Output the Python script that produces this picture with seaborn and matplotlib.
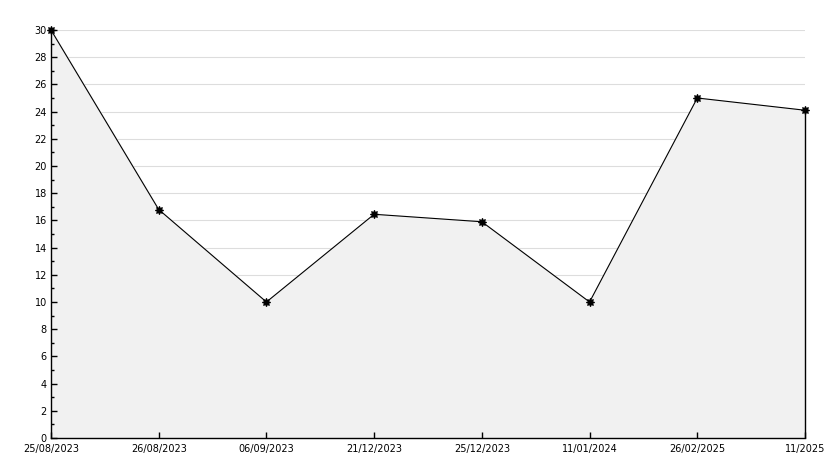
import matplotlib
matplotlib.use("Agg")
import matplotlib.pyplot as plt
import seaborn as sns
import pandas as pd
from matplotlib.ticker import MultipleLocator

# data
dates = ["25/08/2023", "26/08/2023", "06/09/2023", "21/12/2023",
         "25/12/2023", "11/01/2024", "26/02/2025", "11/2025"]
values = [30, 16.8, 10, 16.45, 15.9, 10, 25, 24.1]
y_grid = list(range(2, 31, 2))

df = pd.DataFrame({"pos": range(len(dates)), "value": values})

sns.set_style("white")
plt.rcParams["font.family"] = ["DejaVu Sans"]

fig = plt.figure(figsize=(8.34, 4.68), dpi=100)
ax = fig.add_axes([51 / 834, 30 / 468, 754 / 834, 408 / 468])

# gridlines sit behind the filled area, ticks stay on top
for g in y_grid:
    ax.axhline(g, color="#dddddd", linewidth=0.8, zorder=0)

ax.fill_between(df["pos"], df["value"], 0, color="#f1f1f1", zorder=1)
sns.lineplot(data=df, x="pos", y="value", color="black", linewidth=0.8,
             marker=(8, 1, 0), markersize=6, markeredgecolor="black",
             markerfacecolor="black", ax=ax, zorder=3, clip_on=False)
# right edge of the filled area
ax.vlines(df["pos"].iloc[-1], 0, df["value"].iloc[-1], color="black",
          linewidth=1.0, zorder=3, clip_on=False)

ax.set_xlim(0, len(dates) - 1)
ax.set_ylim(0, 30)
ax.set_xticks(range(len(dates)))
ax.set_xticklabels(dates)
ax.yaxis.set_major_locator(MultipleLocator(2))
ax.yaxis.set_minor_locator(MultipleLocator(1))
ax.grid(False)
ax.set_axisbelow(False)

ax.tick_params(axis="both", which="major", direction="in", length=4,
               width=1, labelsize=7, color="black", labelcolor="black", pad=3)
ax.tick_params(axis="y", which="minor", direction="in", length=2, width=1,
               color="black")
ax.tick_params(axis="x", pad=4)
ax.tick_params(left=True, bottom=True)
ax.tick_params(axis="y", which="minor", left=True)

for side in ["top", "right"]:
    ax.spines[side].set_visible(False)
for side in ["left", "bottom"]:
    ax.spines[side].set_color("black")
    ax.spines[side].set_linewidth(1)

ax.set_xlabel("")
ax.set_ylabel("")

fig.savefig("out.png", dpi=100)
